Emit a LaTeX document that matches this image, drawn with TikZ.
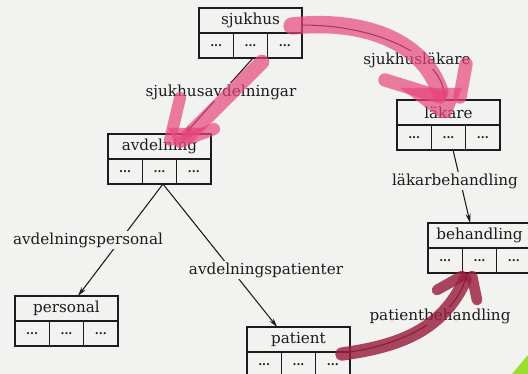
\documentclass[tikz,border=0pt]{standalone}
\usepackage{fontspec}
\setmainfont{DejaVu Serif}
\usetikzlibrary{arrows.meta,calc}
\definecolor{paper}{HTML}{F2F2F0}
\definecolor{ink}{HTML}{1C1C1C}
\definecolor{hlpink}{HTML}{E8467C}
\definecolor{hlred}{HTML}{9A1E40}
\definecolor{hlgreen}{HTML}{98E02C}
\newcommand\mkrecord[4]{%
  \node[hdr] (#1) at (#2+51.5,#3+12.5) {#4};
  \node[cell,anchor=north west] (#1-1) at (#1.south west) {\textbf{...}};
  \node[cell,anchor=north west] (#1-2) at (#1-1.north east) {\textbf{...}};
  \node[cell,anchor=north west] (#1-3) at (#1-2.north east) {\textbf{...}};
}
\begin{document}
\begin{tikzpicture}[x=0.75pt,y=-0.75pt,
  hdr/.style={draw=ink,line width=0.95pt,minimum width=77.25pt,minimum height=18.75pt,inner sep=0pt,outer sep=0pt,font=\fontsize{11.4}{13}\selectfont,text=ink},
  cell/.style={draw=ink,line width=0.95pt,minimum width=25.75pt,minimum height=18.75pt,inner sep=0pt,outer sep=0pt,font=\fontsize{8.5}{9}\selectfont,text=ink,text depth=-1pt},
  conn/.style={draw=ink,line width=0.8pt,-{Stealth[length=7pt,width=3.8pt]}},
  lbl/.style={fill=paper,inner sep=1pt,font=\fontsize{11.4}{13}\selectfont,text=ink},
  hl/.style={line width=11pt,line cap=round,line join=round,opacity=0.7}]
\fill[paper] (0,0) rectangle (528,374);
\useasboundingbox (0,0) rectangle (528,374);

\mkrecord{sjukhus}{199}{8}{sjukhus}
\mkrecord{avdelning}{108}{134}{avdelning}
\mkrecord{laekare}{397}{100}{läkare}
\mkrecord{behandling}{428}{223}{behandling}
\mkrecord{personal}{15}{296}{personal}
\mkrecord{patient}{247}{327}{patient}

% connectors
\draw[conn] ([xshift=1.9pt]sjukhus-2.south) -- ([xshift=19pt]avdelning.north);
\draw[conn] ([yshift=-3.4pt]sjukhus.east) .. controls +(75,0) and +(-5,-45) .. ([xshift=-2.6pt]laekare.north);
\draw[conn] ([xshift=3.4pt]laekare-2.south) -- ([xshift=-7pt]behandling.north);
\draw[conn] ([xshift=2.6pt]avdelning-2.south) -- ([xshift=8.6pt]personal.north);
\draw[conn] ([xshift=2.6pt]avdelning-2.south) -- ([xshift=-16pt]patient.north);
\draw[conn] (patient.south east) .. controls +(50,-7) and +(-12,46) .. ([xshift=3.5pt]behandling-2.south west);

% labels
\node[lbl] (l1) at (221,92) {sjukhusavdelningar};
\node[lbl] (l2) at (417,60) {sjukhusläkare};
\node[lbl] (l3) at (455,181) {läkarbehandling};
\node[lbl] (l4) at (88,240) {avdelningspersonal};
\node[lbl] (l5) at (266,270) {avdelningspatienter};
\node[lbl] (l6) at (440,316) {patientbehandling};

% highlighter strokes
\draw[hl,hlpink] (262,62) -- (188,136);
\draw[hl,hlpink,line width=9pt] (180,98) -- (170,140);
\draw[hl,hlpink,line width=9pt] (214,129) -- (180,142);
\fill[hlpink,opacity=0.7] (168,128) -- (205,128) -- (176,146) -- cycle;

\draw[hl,hlpink,line width=13pt] (292,26) .. controls (370,18) and (425,45) .. (440,92);
\draw[hl,hlpink,line width=10pt] (385,80) -- (440,97);
\draw[hl,hlpink,line width=10pt] (466,64) -- (460,97);
\fill[hlpink,opacity=0.7] (400,88) -- (462,88) -- (450,118) -- (440,118) -- cycle;

\draw[hl,hlred,line width=10pt,opacity=0.82] (342,354) .. controls (400,346) and (442,330) .. (465,280);
\draw[hl,hlred,line width=8pt,opacity=0.82] (437,290) -- (462,276);
\draw[hl,hlred,line width=8pt,opacity=0.82] (477,300) -- (472,276);

\fill[hlgreen] (512,374) -- (528,355) -- (528,374) -- cycle;
\end{tikzpicture}
\end{document}
